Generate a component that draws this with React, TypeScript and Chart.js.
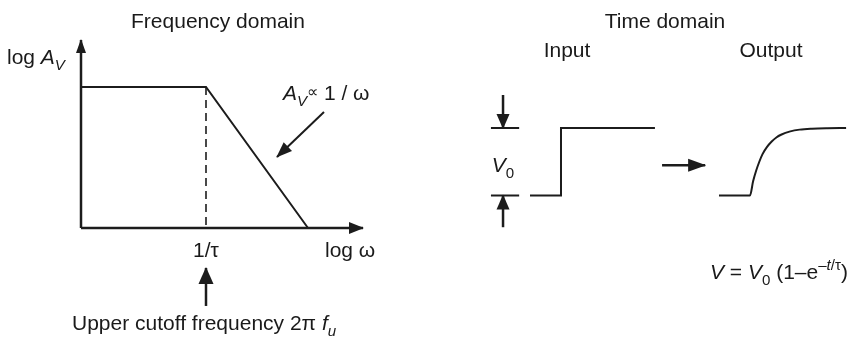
import React, { useEffect, useRef } from "react";
import { Chart, registerables } from "chart.js";

Chart.register(...registerables);

// ---------- Frequency domain (log ω vs log A_V), 1/τ = 1 ----------
const bodeLogOmega = [0, 1, 1.816];
const bodeLogGain = [1, 1, 0];
const gainAxisLogOmega = [0, 0];
const gainAxisLogGain = [0, 1.333];
const omegaAxisLogOmega = [0, 2.256];
const omegaAxisLogGain = [0, 0];
const cutoffLogOmega = [1, 1];
const cutoffLogGain = [1, 0];
const cutoffArrowLogOmega = [1, 1];
const cutoffArrowLogGain = [-0.553, -0.284];
const slopeArrowLogOmega = [1.944, 1.568];
const slopeArrowLogGain = [0.823, 0.504];

// ---------- Time domain (t, V / V0) ----------
const inputT = [-1, 0, 0, 3.03];
const inputV = [0, 0, 1, 1];
const outputT = [-1, 0, 0.1, 0.2, 0.3, 0.4, 0.55, 0.7, 0.85, 1.0, 1.3, 1.6, 2.0, 2.5, 3.1];
const outputV = [0, 0, 0.21, 0.37, 0.5, 0.61, 0.72, 0.8, 0.86, 0.9, 0.95, 0.976, 0.99, 0.997, 1.0];
const bracketT = [-2.26, -1.35];
const bracketTopV = [1, 1];
const bracketBottomV = [0, 0];
const downArrowT = [-1.87, -1.87];
const downArrowV = [1.49, 1.0];
const upArrowT = [-1.87, -1.87];
const upArrowV = [-0.47, 0];
const transferArrowT = [3.26, 4.65];
const transferArrowV = [0.45, 0.45];

const INK = "#1c1c1c";
const FONT = '"Liberation Sans", Arial, Helvetica, sans-serif';

const zip = (xs: number[], ys: number[]) => xs.map((x, i) => ({ x, y: ys[i] }));

type Seg = { t: string; it?: boolean; sub?: boolean; sup?: boolean; small?: number };

const labels: { segs: Seg[]; x: number; y: number; align: "left" | "center" }[] = [
  { segs: [{ t: "Frequency domain" }], x: 218, y: 28, align: "center" },
  { segs: [{ t: "Time domain" }], x: 665, y: 28, align: "center" },
  { segs: [{ t: "Input" }], x: 567, y: 57, align: "center" },
  { segs: [{ t: "Output" }], x: 771, y: 57, align: "center" },
  { segs: [{ t: "log " }, { t: "A", it: true }, { t: "V", it: true, sub: true }], x: 7, y: 64, align: "left" },
  {
    segs: [{ t: "A", it: true }, { t: "V", it: true, sub: true }, { t: "∝", small: 0.75 }, { t: " 1 / ω" }],
    x: 283,
    y: 100,
    align: "left",
  },
  { segs: [{ t: "1/τ" }], x: 206, y: 257, align: "center" },
  { segs: [{ t: "log ω" }], x: 325, y: 257, align: "left" },
  {
    segs: [{ t: "Upper cutoff frequency 2π " }, { t: "f", it: true }, { t: "u", it: true, sub: true }],
    x: 72,
    y: 330,
    align: "left",
  },
  { segs: [{ t: "V", it: true }, { t: "0", sub: true }], x: 503, y: 172, align: "center" },
  {
    segs: [
      { t: "V", it: true },
      { t: " = " },
      { t: "V", it: true },
      { t: "0", sub: true },
      { t: " (1–e" },
      { t: "–", sup: true },
      { t: "t", sup: true, it: true },
      { t: "/τ", sup: true },
      { t: ")" },
    ],
    x: 710,
    y: 279,
    align: "left",
  },
];

const SIZE = 21;

function segFont(s: Seg) {
  let size = SIZE;
  if (s.sub || s.sup) size = SIZE * 0.72;
  if (s.small) size = SIZE * s.small;
  return { font: `${s.it ? "italic " : ""}${size}px ${FONT}`, size };
}

function drawRich(ctx: CanvasRenderingContext2D, segs: Seg[], x: number, y: number, align: string) {
  let total = 0;
  const widths = segs.map((s) => {
    ctx.font = segFont(s).font;
    const w = ctx.measureText(s.t).width;
    total += w;
    return w;
  });
  let cx = align === "center" ? x - total / 2 : x;
  segs.forEach((s, i) => {
    ctx.font = segFont(s).font;
    let dy = 0;
    if (s.sub) dy = SIZE * 0.28;
    if (s.sup) dy = -SIZE * 0.42;
    if (s.small) dy = -SIZE * 0.12;
    ctx.fillText(s.t, cx, y + dy);
    cx += widths[i];
  });
}

const diagramPlugin = {
  id: "diagram",
  afterDatasetsDraw(chart: any) {
    const ctx: CanvasRenderingContext2D = chart.ctx;
    chart.data.datasets.forEach((ds: any, i: number) => {
      if (!ds.arrow) return;
      const pts = chart.getDatasetMeta(i).data;
      const a = pts[pts.length - 2];
      const b = pts[pts.length - 1];
      const ang = Math.atan2(b.y - a.y, b.x - a.x);
      const L = ds.arrow[0];
      const W = ds.arrow[1];
      const c = Math.cos(ang);
      const s = Math.sin(ang);
      ctx.save();
      ctx.fillStyle = ds.borderColor;
      ctx.beginPath();
      ctx.moveTo(b.x + c * 1, b.y + s * 1);
      ctx.lineTo(b.x - L * c + W * s, b.y - L * s - W * c);
      ctx.lineTo(b.x - L * c - W * s, b.y - L * s + W * c);
      ctx.closePath();
      ctx.fill();
      ctx.restore();
    });
    ctx.save();
    ctx.fillStyle = "#1a1a1a";
    ctx.textBaseline = "alphabetic";
    ctx.textAlign = "left";
    labels.forEach((l) => drawRich(ctx, l.segs, l.x, l.y, l.align));
    ctx.restore();
  },
};

function line(xs: number[], ys: number[], xAxisID: string, yAxisID: string, extra: any = {}) {
  return {
    data: zip(xs, ys),
    xAxisID,
    yAxisID,
    showLine: true,
    pointRadius: 0,
    borderColor: INK,
    borderWidth: 2,
    borderCapStyle: "butt",
    borderJoinStyle: "miter",
    fill: false,
    ...extra,
  };
}

export default function App() {
  const ref = useRef<HTMLCanvasElement>(null);
  useEffect(() => {
    if (!ref.current) return;
    const chart = new Chart(ref.current, {
      type: "scatter",
      data: {
        datasets: [
          line(gainAxisLogOmega, gainAxisLogGain, "xf", "yf", { arrow: [13, 5], borderWidth: 2.5 }),
          line(omegaAxisLogOmega, omegaAxisLogGain, "xf", "yf", { arrow: [14, 6], borderWidth: 2.5 }),
          line(bodeLogOmega, bodeLogGain, "xf", "yf"),
          line(cutoffLogOmega, cutoffLogGain, "xf", "yf", { borderDash: [8, 5], borderWidth: 1.6 }),
          line(cutoffArrowLogOmega, cutoffArrowLogGain, "xf", "yf", { arrow: [16, 7.5], borderWidth: 2.5 }),
          line(slopeArrowLogOmega, slopeArrowLogGain, "xf", "yf", { arrow: [15, 6] }),
          line(inputT, inputV, "xin", "yv"),
          line(outputT, outputV, "xout", "yv", { cubicInterpolationMode: "monotone" }),
          line(bracketT, bracketTopV, "xin", "yv"),
          line(bracketT, bracketBottomV, "xin", "yv"),
          line(downArrowT, downArrowV, "xin", "yv", { arrow: [14, 6.5], borderWidth: 2.5 }),
          line(upArrowT, upArrowV, "xin", "yv", { arrow: [14, 6.5], borderWidth: 2.5 }),
          line(transferArrowT, transferArrowV, "xin", "yv", { arrow: [17, 6.5], borderWidth: 2.5 }),
        ] as any,
      },
      options: {
        animation: false,
        responsive: false,
        devicePixelRatio: 1,
        events: [],
        layout: { padding: 0 },
        plugins: { legend: { display: false }, tooltip: { enabled: false } },
        scales: {
          xf: { type: "linear", display: false, min: -0.648, max: 6.152 },
          yf: { type: "linear", display: false, min: -0.7731, max: 1.617 },
          xin: { type: "linear", display: false, min: -18.0968, max: 9.3226 },
          xout: { type: "linear", display: false, min: -24.1935, max: 3.2258 },
          yv: { type: "linear", display: false, min: -2.0963, max: 2.8963 },
        },
      } as any,
      plugins: [diagramPlugin],
    });
    return () => chart.destroy();
  }, []);
  return (
    <div style={{ position: "fixed", left: 0, top: 0, width: 850, height: 337, background: "#fff" }}>
      <canvas ref={ref} width={850} height={337} style={{ width: 850, height: 337, display: "block" }} />
    </div>
  );
}
